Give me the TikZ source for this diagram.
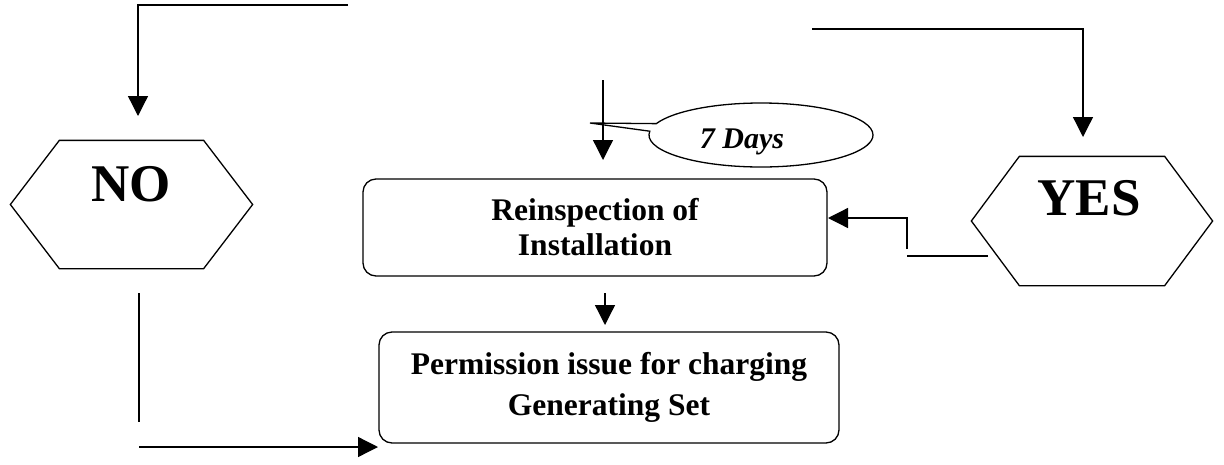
\documentclass[tikz,border=0pt]{standalone}
\usepackage{fontspec}
\setmainfont{Liberation Serif}
\usetikzlibrary{arrows.meta,shapes.callouts}
\begin{document}
\begin{tikzpicture}[x=1pt,y=-1pt,
  line width=1.3pt,
  arr/.style={-{Triangle[length=20pt,width=20pt]}},
  hexbox/.style={draw=none,inner sep=0pt,minimum width=#1},
  bigtxt/.style={font=\fontsize{53}{60}\selectfont\bfseries,inner sep=0pt},
  procbox/.style={draw,rounded corners=13pt,align=center,inner sep=0pt,
    font=\fontsize{31.5}{35}\selectfont\bfseries},
]
\useasboundingbox (0,0) rectangle (1224,464);

% NO hexagon
\node[hexbox=241pt,minimum height=127pt] (no) at (131.5,204.5) {};
\draw (no.west) -- ([xshift=49pt]no.north west) -- ([xshift=-49pt]no.north east)
  -- (no.east) -- ([xshift=-49pt]no.south east) -- ([xshift=49pt]no.south west) -- cycle;
\node[bigtxt] (notext) at (131,184) {NO};

% YES hexagon
\node[hexbox=240pt,minimum height=128pt] (yes) at (1092,221) {};
\draw (yes.west) -- ([xshift=48pt]yes.north west) -- ([xshift=-48pt]yes.north east)
  -- (yes.east) -- ([xshift=-48pt]yes.south east) -- ([xshift=48pt]yes.south west) -- cycle;
\node[bigtxt] (yestext) at (1089,198.5) {YES};

% process boxes
\node[procbox,minimum width=464pt,minimum height=97pt] (reinsp) at (595,227.5)
  {Reinspection of\\Installation};
\node[procbox,minimum width=460pt,minimum height=111pt,
  font=\fontsize{31.5}{41}\selectfont\bfseries] (perm) at (609,387.5)
  {Permission issue for charging\\Generating Set};

% callout
\node[draw,ellipse callout,minimum width=224pt,minimum height=64pt,
  callout absolute pointer={(590,123)},callout pointer arc=14] (days) at (761,135) {};
\node[font=\fontsize{30}{34}\selectfont\bfseries\itshape,inner sep=0pt] (daystext)
  at (742,142) {7 Days};

% connector coordinates
\coordinate (a1) at (348,5);
\coordinate (a2) at (138,116);
\coordinate (b1) at (812,29);
\coordinate (b2) at (1083,137);
\coordinate (c1) at (603,80);
\coordinate (c2) at (603,160);
\coordinate (d1) at (139,293);
\coordinate (d2) at (139,422);
\coordinate (e1) at (139,447);
\coordinate (e2) at (378,447);
\coordinate (f1) at (988,256);
\coordinate (f2) at (907,256);
\coordinate (g1) at (907,249);
\coordinate (g2) at (907,218);
\coordinate (g3) at (828,218);
\coordinate (h1) at (605,293);
\coordinate (h2) at (605,325);

\draw[arr] (a1) -| (a2);
\draw[arr] (b1) -| (b2);
\draw[arr] (c1) -- (c2);
\draw (d1) -- (d2);
\draw[arr] (e1) -- (e2);
\draw (f1) -- (f2);
\draw[arr] (g1) -- (g2) -- (g3);
\draw[arr] (h1) -- (h2);
\end{tikzpicture}
\end{document}
